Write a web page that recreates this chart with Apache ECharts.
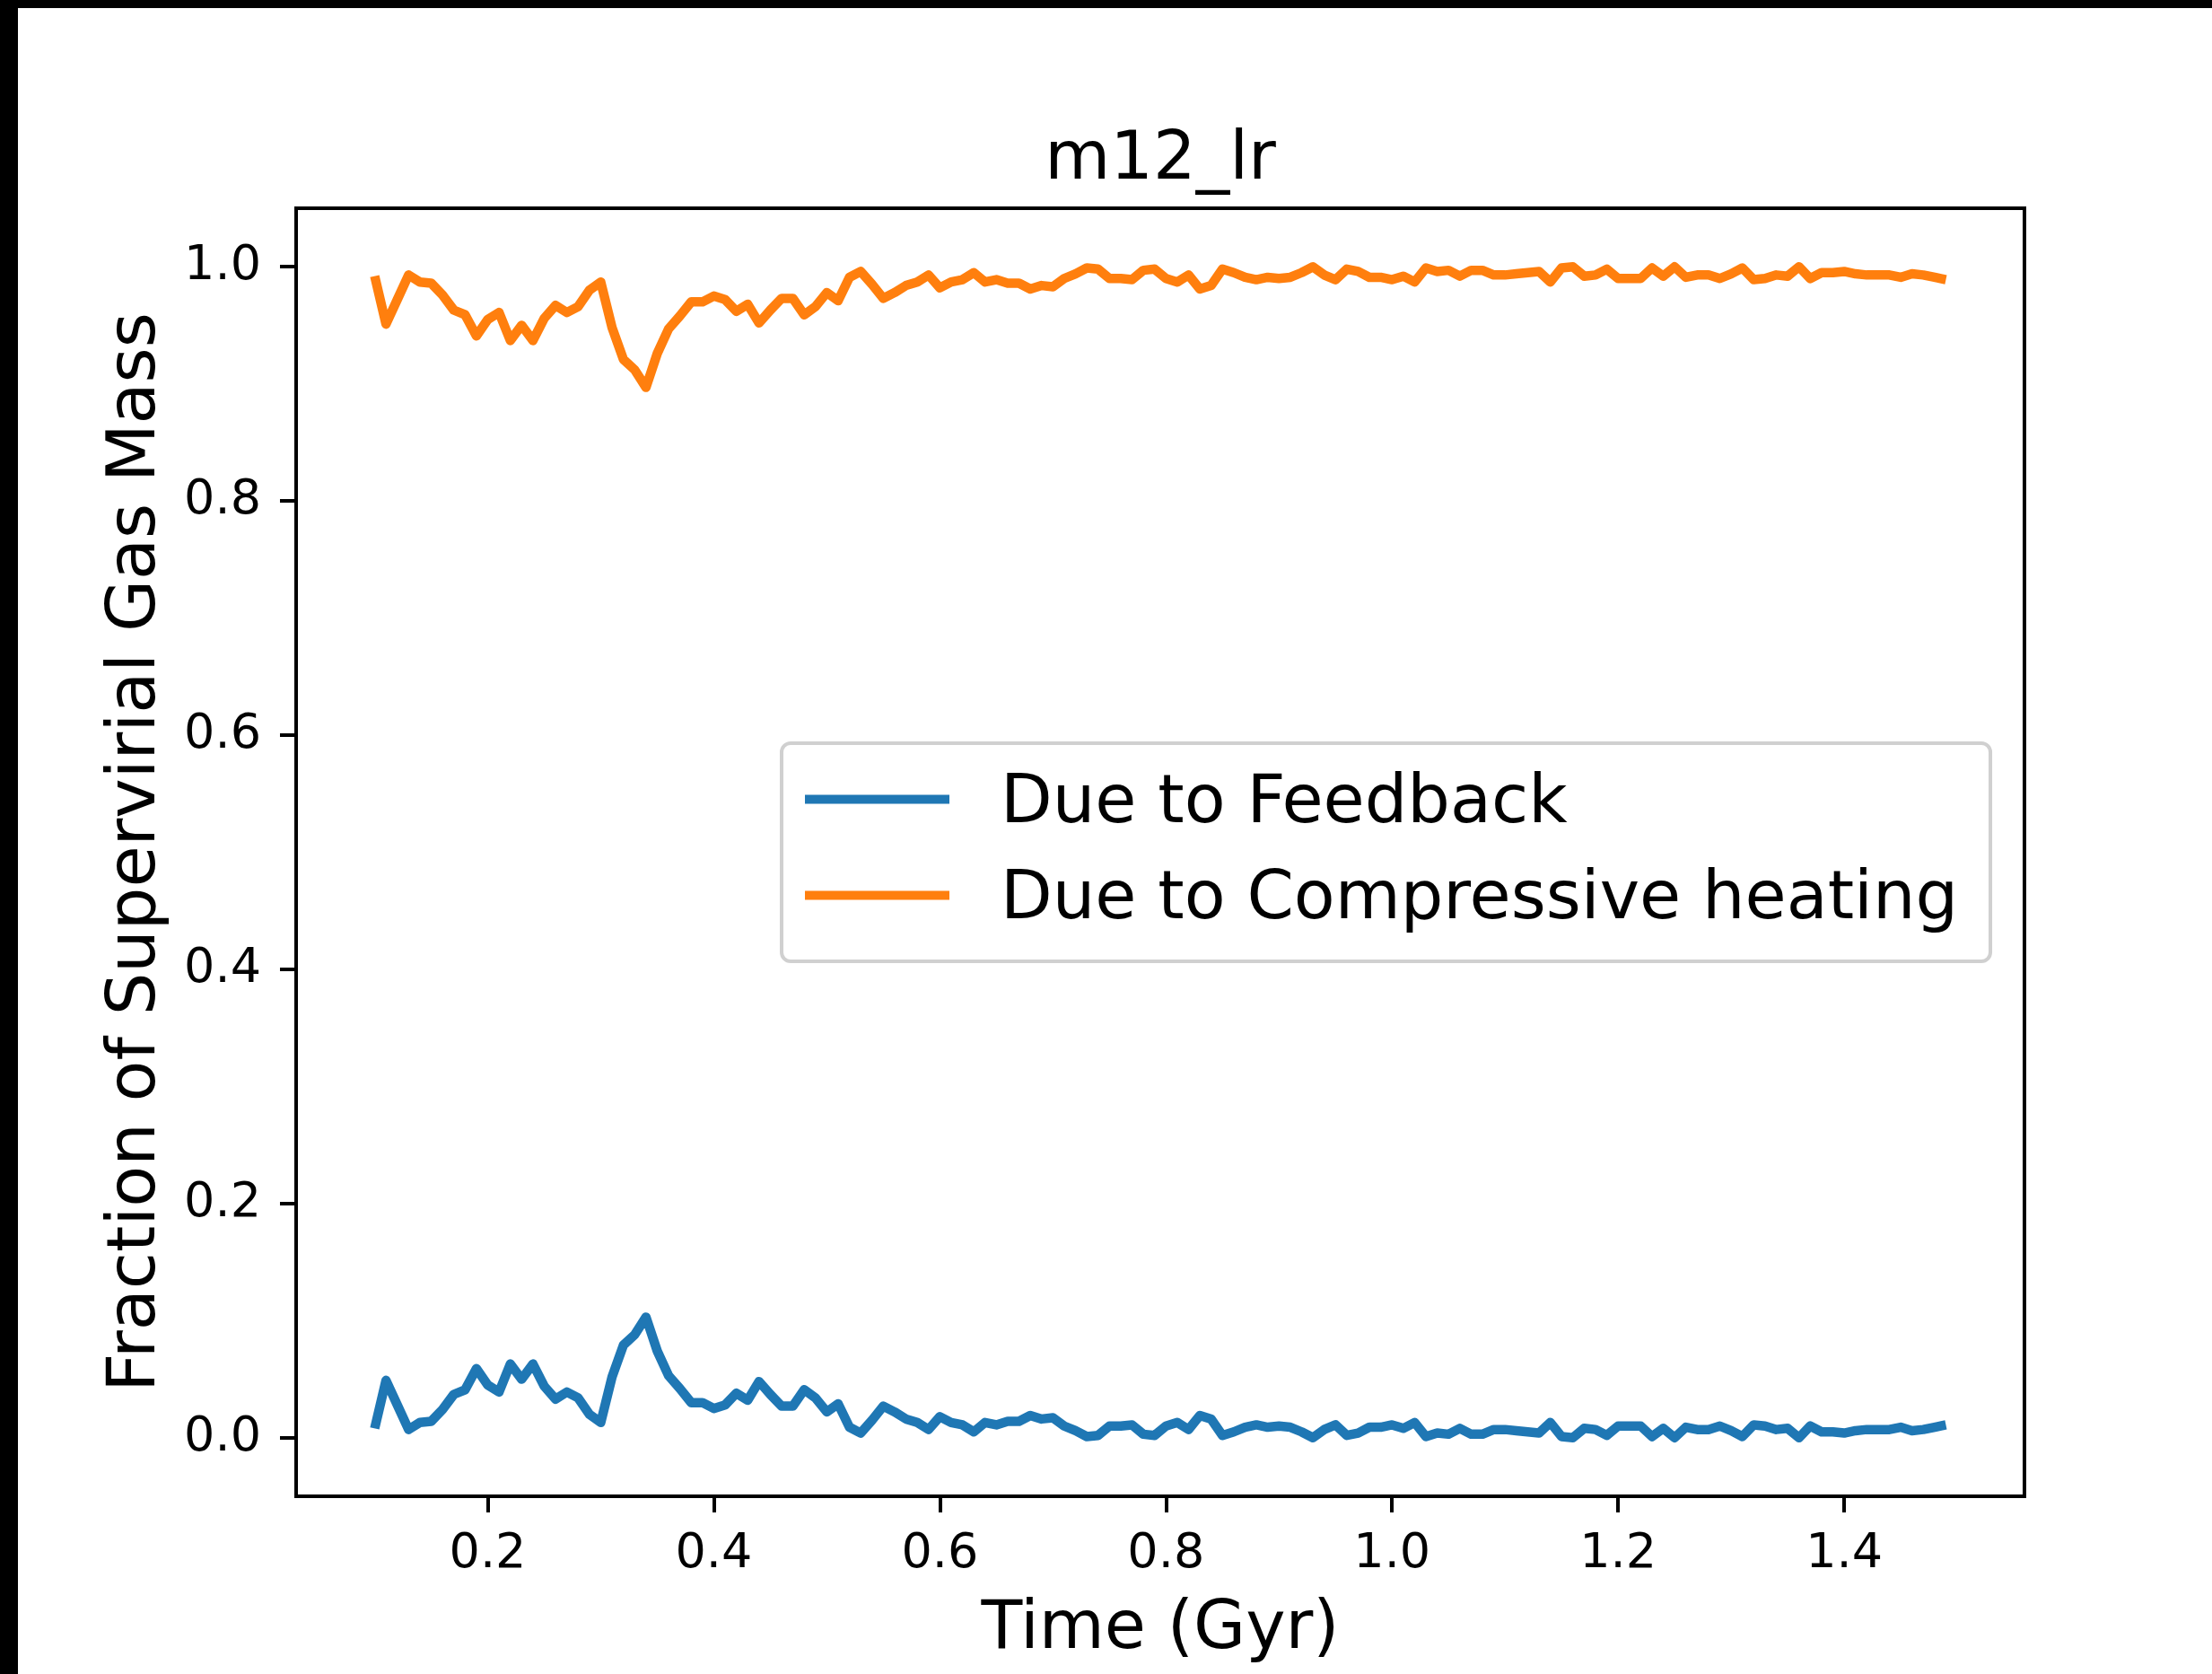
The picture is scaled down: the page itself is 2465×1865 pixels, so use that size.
<!DOCTYPE html>
<html>
<head>
<meta charset="utf-8">
<script src="https://cdn.jsdelivr.net/npm/echarts@6/dist/echarts.min.js"></script>
<style>
html,body{margin:0;padding:0;background:#fff;}
#chart{width:2465px;height:1865px;}
</style>
</head>
<body>
<div id="chart"></div>
<script>
const titleText = 'm12_lr';
const xName = 'Time (Gyr)';
const yName = 'Fraction of Supervirial Gas Mass';
const seriesNames = ['Due to Feedback', 'Due to Compressive heating'];

const timeGyr = [
  0.10,0.11,0.12,0.13,0.14,0.15,0.16,0.17,0.18,0.19,
  0.20,0.21,0.22,0.23,0.24,0.25,0.26,0.27,0.28,0.29,
  0.30,0.31,0.32,0.33,0.34,0.35,0.36,0.37,0.38,0.39,
  0.40,0.41,0.42,0.43,0.44,0.45,0.46,0.47,0.48,0.49,
  0.50,0.51,0.52,0.53,0.54,0.55,0.56,0.57,0.58,0.59,
  0.60,0.61,0.62,0.63,0.64,0.65,0.66,0.67,0.68,0.69,
  0.70,0.71,0.72,0.73,0.74,0.75,0.76,0.77,0.78,0.79,
  0.80,0.81,0.82,0.83,0.84,0.85,0.86,0.87,0.88,0.89,
  0.90,0.91,0.92,0.93,0.94,0.95,0.96,0.97,0.98,0.99,
  1.00,1.01,1.02,1.03,1.04,1.05,1.06,1.07,1.08,1.09,
  1.10,1.11,1.12,1.13,1.14,1.15,1.16,1.17,1.18,1.19,
  1.20,1.21,1.22,1.23,1.24,1.25,1.26,1.27,1.28,1.29,
  1.30,1.31,1.32,1.33,1.34,1.35,1.36,1.37,1.38,1.39,
  1.40,1.41,1.42,1.43,1.44,1.45,1.46,1.47,1.48,1.49
];

const feedback = [
  0.008,0.049,0.028,0.007,0.013,0.014,0.024,0.037,0.041,0.059,
  0.045,0.039,0.063,0.050,0.063,0.044,0.033,0.039,0.034,0.020,
  0.013,0.052,0.079,0.088,0.103,0.074,0.053,0.042,0.030,0.030,
  0.025,0.028,0.038,0.032,0.048,0.037,0.027,0.027,0.041,0.034,
  0.022,0.029,0.009,0.004,0.015,0.027,0.022,0.016,0.013,0.007,
  0.018,0.013,0.011,0.005,0.013,0.011,0.014,0.014,0.019,0.016,
  0.017,0.010,0.006,0.001,0.002,0.010,0.010,0.011,0.003,0.002,
  0.010,0.013,0.007,0.019,0.016,0.002,0.005,0.009,0.011,0.009,
  0.010,0.009,0.005,0.000,0.007,0.011,0.002,0.004,0.009,0.009,
  0.011,0.008,0.013,0.001,0.004,0.003,0.008,0.003,0.003,0.007,
  0.007,0.006,0.005,0.004,0.013,0.001,0.000,0.008,0.007,0.002,
  0.010,0.010,0.010,0.001,0.008,0.000,0.009,0.007,0.007,0.010,
  0.006,0.001,0.011,0.010,0.007,0.008,0.000,0.010,0.005,0.005,
  0.004,0.006,0.007,0.007,0.007,0.009,0.006,0.007,0.009,0.011
];

const compressive = [
  0.992,0.951,0.972,0.993,0.987,0.986,0.976,0.963,0.959,0.941,
  0.955,0.961,0.937,0.950,0.937,0.956,0.967,0.961,0.966,0.980,
  0.987,0.948,0.921,0.912,0.897,0.926,0.947,0.958,0.970,0.970,
  0.975,0.972,0.962,0.968,0.952,0.963,0.973,0.973,0.959,0.966,
  0.978,0.971,0.991,0.996,0.985,0.973,0.978,0.984,0.987,0.993,
  0.982,0.987,0.989,0.995,0.987,0.989,0.986,0.986,0.981,0.984,
  0.983,0.990,0.994,0.999,0.998,0.990,0.990,0.989,0.997,0.998,
  0.990,0.987,0.993,0.981,0.984,0.998,0.995,0.991,0.989,0.991,
  0.990,0.991,0.995,1.000,0.993,0.989,0.998,0.996,0.991,0.991,
  0.989,0.992,0.987,0.999,0.996,0.997,0.992,0.997,0.997,0.993,
  0.993,0.994,0.995,0.996,0.987,0.999,1.000,0.992,0.993,0.998,
  0.990,0.990,0.990,0.999,0.992,1.000,0.991,0.993,0.993,0.990,
  0.994,0.999,0.989,0.990,0.993,0.992,1.000,0.990,0.995,0.995,
  0.996,0.994,0.993,0.993,0.993,0.991,0.994,0.993,0.991,0.989
];

const xTicks = [0.2, 0.4, 0.6, 0.8, 1.0, 1.2, 1.4];
const yTicks = [0.0, 0.2, 0.4, 0.6, 0.8, 1.0];

const FONT = 'DejaVu Sans';
const chart = echarts.init(document.getElementById('chart'), null, {renderer: 'canvas'});

function pairs(xs, ys) { return xs.map((x, i) => [x, ys[i]]); }

chart.setOption({
  animation: false,
  backgroundColor: '#ffffff',
  title: {
    text: titleText,
    left: 1293,
    top: 142,
    textAlign: 'center',
    padding: 0,
    textStyle: {fontFamily: FONT, fontSize: 75, fontWeight: 'normal', color: '#000'}
  },
  grid: {
    left: 330, top: 232, width: 1926, height: 1435,
    show: true, borderColor: '#000', borderWidth: 4, backgroundColor: 'transparent'
  },
  legend: {
    orient: 'vertical',
    left: 871, top: 828,
    padding: [19, 36, 30, 26],
    itemWidth: 161, itemHeight: 10, itemGap: 20,
    icon: 'rect',
    borderColor: '#d0d0d0', borderWidth: 4, borderRadius: 10,
    backgroundColor: 'rgba(255,255,255,0.8)',
    formatter: name => '{t|' + name + '}',
    textStyle: {
      fontFamily: FONT, fontSize: 75, color: '#000',
      rich: {t: {fontFamily: FONT, fontSize: 75, color: '#000', padding: [12, 0, 0, 52], lineHeight: 68}}
    },
    data: seriesNames
  },
  xAxis: {
    type: 'value',
    min: 0.0305, max: 1.5595,
    name: xName,
    nameLocation: 'middle',
    nameGap: 112,
    nameTextStyle: {fontFamily: FONT, fontSize: 75, color: '#000'},
    axisLine: {show: true, onZero: false, lineStyle: {color: '#000', width: 4}},
    axisTick: {show: true, inside: false, length: 18, lineStyle: {color: '#000', width: 4}, customValues: xTicks},
    axisLabel: {show: true, margin: 38, fontFamily: FONT, fontSize: 54, color: '#000',
      customValues: xTicks, formatter: v => Number(v).toFixed(1)},
    splitLine: {show: false}
  },
  yAxis: {
    type: 'value',
    min: -0.05, max: 1.05,
    name: yName,
    nameLocation: 'middle',
    nameGap: 140,
    nameTextStyle: {fontFamily: FONT, fontSize: 75, color: '#000'},
    axisLine: {show: true, onZero: false, lineStyle: {color: '#000', width: 4}},
    axisTick: {show: true, inside: false, length: 18, lineStyle: {color: '#000', width: 4}, customValues: yTicks},
    axisLabel: {show: true, margin: 39, fontFamily: FONT, fontSize: 54, color: '#000',
      customValues: yTicks, formatter: v => Number(v).toFixed(1)},
    splitLine: {show: false}
  },
  graphic: [
    {type: 'rect', left: 0, top: 0, shape: {width: 2465, height: 9}, style: {fill: '#000'}, z: 100},
    {type: 'rect', left: 0, top: 0, shape: {width: 20, height: 1865}, style: {fill: '#000'}, z: 100}
  ],
  series: [
    {
      name: seriesNames[0], type: 'line', data: pairs(timeGyr, feedback),
      showSymbol: false, symbol: 'none', color: '#1f77b4',
      lineStyle: {color: '#1f77b4', width: 10.5, cap: 'butt', join: 'round'},
      itemStyle: {color: '#1f77b4'}
    },
    {
      name: seriesNames[1], type: 'line', data: pairs(timeGyr, compressive),
      showSymbol: false, symbol: 'none', color: '#ff7f0e',
      lineStyle: {color: '#ff7f0e', width: 10.5, cap: 'butt', join: 'round'},
      itemStyle: {color: '#ff7f0e'}
    }
  ]
});
</script>
</body>
</html>
